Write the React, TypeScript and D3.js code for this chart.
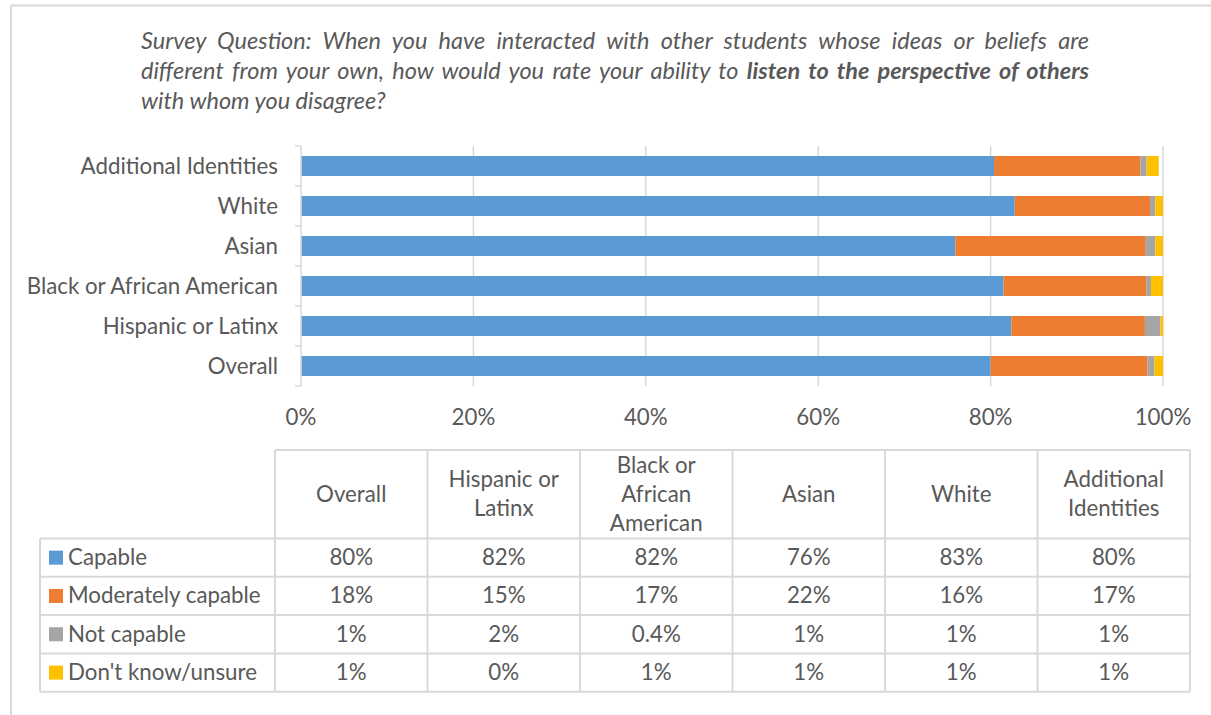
import React, { useLayoutEffect, useRef, useState } from "react";
import * as d3 from "d3";

// ---------- data ----------
const categories = [
  "Overall",
  "Hispanic or Latinx",
  "Black or African American",
  "Asian",
  "White",
  "Additional Identities",
];
const seriesNames = ["Capable", "Moderately capable", "Not capable", "Don't know/unsure"];
const capable = [80.0, 82.4, 81.5, 75.9, 82.8, 80.4];
const moderatelyCapable = [18.2, 15.5, 16.6, 22.1, 15.7, 17.0];
const notCapable = [0.8, 1.8, 0.5, 1.1, 0.6, 0.7];
const unsure = [1.0, 0.3, 1.4, 0.9, 0.9, 1.4];

const tableHeaders = [
  ["Overall"],
  ["Hispanic or", "Latinx"],
  ["Black or", "African", "American"],
  ["Asian"],
  ["White"],
  ["Additional", "Identities"],
];
const tableCapable = ["80%", "82%", "82%", "76%", "83%", "80%"];
const tableModerate = ["18%", "15%", "17%", "22%", "16%", "17%"];
const tableNot = ["1%", "2%", "0.4%", "1%", "1%", "1%"];
const tableUnsure = ["1%", "0%", "1%", "1%", "1%", "1%"];

const xTicks = [0, 20, 40, 60, 80, 100];

const titleLine1 =
  "Survey Question: When you have interacted with other students whose ideas or beliefs are";
const titleLine2a = "different from your own, how would you rate your ability to ";
const titleLine2b = "listen to the perspective of others";
const titleLine3 = "with whom you disagree?";

// ---------- style ----------
const FONT = "Lato, 'Open Sans', sans-serif";
const TEXT = "#595959";
const GRID = "#D9D9D9";
const COLORS = ["#5B9BD5", "#ED7D31", "#A5A5A5", "#FFC000"];
const FS = 22.3;
const TFS = 23.5;

function JustifiedText({
  x,
  y,
  width,
  children,
}: {
  x: number;
  y: number;
  width: number;
  children: React.ReactNode;
}) {
  const ref = useRef<SVGTextElement>(null);
  const [ws, setWs] = useState(0);
  useLayoutEffect(() => {
    const el = ref.current;
    if (!el) return;
    const w = el.getComputedTextLength();
    const t = el.textContent || "";
    const n = (t.match(/ /g) || []).length;
    if (n > 0) setWs((width - w) / n);
  }, [width]);
  return (
    <text
      ref={ref}
      x={x}
      y={y}
      fontFamily={FONT}
      fontStyle="italic"
      fontSize={TFS}
      fill={TEXT}
      style={{ wordSpacing: `${ws}px`, whiteSpace: "pre" }}
    >
      {children}
    </text>
  );
}

export default function App() {
  const W = 1211;
  const H = 715;

  // chart scales
  const x = d3.scaleLinear().domain([0, 100]).range([301, 1163]);
  const y = d3
    .scaleBand<string>()
    .domain([...categories].reverse())
    .range([146, 386])
    .paddingInner(0.5)
    .paddingOuter(0.25);
  const yFull = d3.scaleBand<string>().domain([...categories].reverse()).range([146, 386]);

  const rows = categories.map((c, i) => ({
    cat: c,
    s0: capable[i],
    s1: moderatelyCapable[i],
    s2: notCapable[i],
    s3: unsure[i],
  }));
  const stack = d3.stack<any>().keys(["s0", "s1", "s2", "s3"]);
  const stacked = stack(rows);

  // table layout
  const colX = d3.range(7).map((i) => 275 + i * 152.5);
  const tableLeft = 40;
  const headTop = 450;
  const rowY = [538.5, 576.8, 615.1, 653.4, 691.7];
  const tableRows = [tableCapable, tableModerate, tableNot, tableUnsure];

  return (
    <svg
      width={W}
      height={H}
      style={{ position: "absolute", left: 0, top: 0, background: "#fff" }}
    >
      {/* frame */}
      <line x1={11} x2={W} y1={5.5} y2={5.5} stroke={GRID} strokeWidth={2} />
      <line x1={11} x2={11} y1={5} y2={H} stroke={GRID} strokeWidth={2} />

      {/* title */}
      <JustifiedText x={141} y={49} width={948}>
        {titleLine1}
      </JustifiedText>
      <JustifiedText x={141} y={79} width={948}>
        <tspan>{titleLine2a}</tspan>
        <tspan fontWeight="bold">{titleLine2b}</tspan>
      </JustifiedText>
      <text x={141} y={109} fontFamily={FONT} fontStyle="italic" fontSize={TFS} fill={TEXT}>
        {titleLine3}
      </text>

      {/* gridlines */}
      {xTicks.slice(1).map((t) => (
        <line key={t} x1={x(t)} x2={x(t)} y1={146} y2={386} stroke={GRID} strokeWidth={1.5} />
      ))}

      {/* bars */}
      {stacked.map((layer, si) => (
        <g key={si} fill={COLORS[si]}>
          {layer.map((d: any, i: number) => (
            <rect
              key={i}
              x={x(d[0])}
              y={y(d.data.cat)}
              width={Math.max(0, x(d[1]) - x(d[0]))}
              height={y.bandwidth()}
            />
          ))}
        </g>
      ))}

      {/* y axis */}
      <line x1={301} x2={301} y1={146} y2={386} stroke={GRID} strokeWidth={1.5} />
      {[...yFull.domain().map((c) => yFull(c)!), 386].map((v, i) => (
        <line key={i} x1={295} x2={301} y1={v} y2={v} stroke={GRID} strokeWidth={1.5} />
      ))}
      {categories.map((c) => (
        <text
          key={c}
          x={278}
          y={yFull(c)! + yFull.bandwidth() / 2 + 7.5}
          textAnchor="end"
          fontFamily={FONT}
          fontSize={FS}
          fill={TEXT}
        >
          {c}
        </text>
      ))}

      {/* x tick labels */}
      {xTicks.map((t) => (
        <text
          key={t}
          x={x(t)}
          y={425}
          textAnchor="middle"
          fontFamily={FONT}
          fontSize={FS}
          fill={TEXT}
        >
          {`${t}%`}
        </text>
      ))}

      {/* table */}
      <g stroke={GRID} strokeWidth={2} fill="none">
        <line x1={colX[0]} x2={colX[6]} y1={headTop} y2={headTop} />
        {rowY.map((v, i) => (
          <line key={i} x1={tableLeft} x2={colX[6]} y1={v} y2={v} />
        ))}
        <line x1={tableLeft} x2={tableLeft} y1={rowY[0]} y2={rowY[4]} />
        {colX.map((cx, i) => (
          <line key={i} x1={cx} x2={cx} y1={headTop} y2={rowY[4]} />
        ))}
      </g>
      {tableHeaders.map((lines, ci) => {
        const cx = (colX[ci] + colX[ci + 1]) / 2;
        const mid = (headTop + rowY[0]) / 2;
        const lh = 29;
        const first = mid - ((lines.length - 1) * lh) / 2 + 7.5;
        return (
          <text
            key={ci}
            textAnchor="middle"
            fontFamily={FONT}
            fontSize={FS}
            fill={TEXT}
          >
            {lines.map((l, li) => (
              <tspan key={li} x={cx} y={first + li * lh}>
                {l}
              </tspan>
            ))}
          </text>
        );
      })}
      {tableRows.map((vals, ri) => {
        const mid = (rowY[ri] + rowY[ri + 1]) / 2;
        return (
          <g key={ri}>
            <rect x={49} y={mid - 7} width={14} height={14} fill={COLORS[ri]} />
            <text x={68} y={mid + 7.5} fontFamily={FONT} fontSize={FS} fill={TEXT}>
              {seriesNames[ri]}
            </text>
            {vals.map((v, ci) => (
              <text
                key={ci}
                x={(colX[ci] + colX[ci + 1]) / 2}
                y={mid + 7.5}
                textAnchor="middle"
                fontFamily={FONT}
                fontSize={FS}
                fill={TEXT}
              >
                {v}
              </text>
            ))}
          </g>
        );
      })}
    </svg>
  );
}
